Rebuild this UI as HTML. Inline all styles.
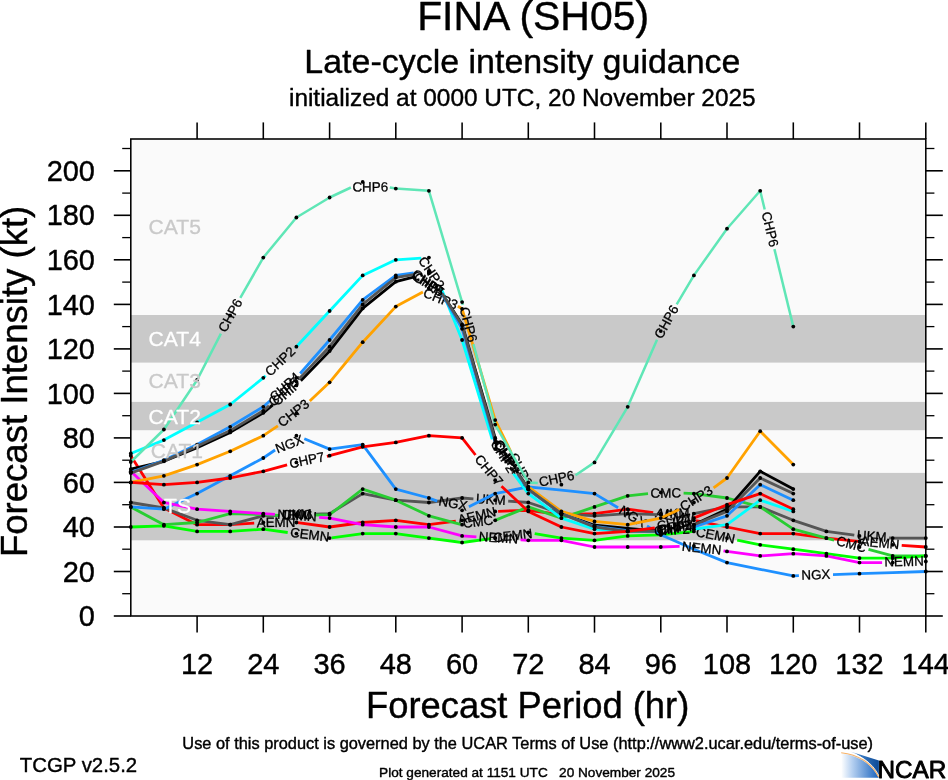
<!DOCTYPE html>
<html lang="en"><head><meta charset="utf-8"><title>FINA (SH05) Late-cycle intensity guidance</title>
<style>html,body{margin:0;padding:0;background:#fff}.ln text{stroke-width:.3px}svg{display:block;will-change:transform}text{font-family:"Liberation Sans", Arial, Helvetica, sans-serif;fill:#000;stroke:#000;stroke-width:.4px;stroke-linejoin:round}</style></head><body>
<svg width="948" height="780" viewBox="0 0 948 780">
<rect width="948" height="780" fill="#fff"/>
<text x="417.14" y="29.90" font-size="40.93" xml:space="preserve" style="white-space:pre">FINA (SH05)</text>
<text x="304.31" y="72.70" font-size="33.97" xml:space="preserve" style="white-space:pre">Late-cycle intensity guidance</text>
<text x="288.96" y="105.60" font-size="24.42" xml:space="preserve" style="white-space:pre">initialized at 0000 UTC, 20 November 2025</text>
<rect x="130.8" y="139.0" width="795.0" height="477.0" fill="#fafafa"/>
<rect x="130.8" y="472.9" width="795.0" height="67.4" fill="#c9c9c9"/>
<rect x="130.8" y="401.9" width="795.0" height="28.3" fill="#c9c9c9"/>
<rect x="130.8" y="315.0" width="795.0" height="47.6" fill="#c9c9c9"/>
<g fill="none" stroke-linejoin="round" stroke-linecap="butt" font-size="13.4" text-anchor="middle" class="ln">
<polyline stroke="#ff0000" stroke-width="2.8" points="130.8,455.7 163.9,508.0 197.1,524.7 230.2,524.7 254.2,523.1"/>
<polyline stroke="#ff0000" stroke-width="2.8" points="297.8,522.7 329.6,527.0 362.7,522.5 395.8,520.3 428.9,524.7 455.8,521.1"/>
<polyline stroke="#ff0000" stroke-width="2.8" points="498.1,511.3 528.3,510.3 561.4,514.7 594.5,513.6 627.7,509.2 653.2,512.6"/>
<polyline stroke="#ff0000" stroke-width="2.8" points="696.0,520.7 727.0,527.0 760.2,533.6 793.3,533.6 826.4,538.1 858.3,541.3"/>
<polyline stroke="#ff0000" stroke-width="2.8" points="901.7,545.4 925.8,547.0"/>
<text transform="translate(276.0,522.9) rotate(-0.6)" y="4.1">AEMN</text>
<text transform="translate(476.9,516.2) rotate(-13.1)" y="4.1">AEMN</text>
<text transform="translate(674.6,516.6) rotate(10.7)" y="4.1">AEMN</text>
<text transform="translate(880.0,543.3) rotate(5.4)" y="4.1">AEMN</text>
<polyline stroke="#555555" stroke-width="2.8" points="130.8,502.5 163.9,508.0 197.1,520.3 230.2,524.7 263.3,515.8 279.5,515.3"/>
<polyline stroke="#555555" stroke-width="2.8" points="314.4,514.1 329.6,513.6 362.7,493.6 395.8,500.2 428.9,502.5 462.1,498.0 473.4,498.8"/>
<polyline stroke="#555555" stroke-width="2.8" points="508.2,501.1 528.3,502.5 561.4,513.6 594.5,515.8 627.7,513.6 657.2,514.6"/>
<polyline stroke="#555555" stroke-width="2.8" points="692.0,513.7 693.9,513.6 727.0,506.9 760.2,506.9 793.3,520.3 826.4,531.4 854.3,535.2"/>
<polyline stroke="#555555" stroke-width="2.8" points="889.1,537.8 892.7,538.1 925.8,538.1"/>
<text transform="translate(297.0,514.7) rotate(-1.9)" y="4.1">UKM</text>
<text transform="translate(490.8,500.0) rotate(3.8)" y="4.1">UKM</text>
<text transform="translate(674.6,514.1) rotate(-1.5)" y="4.1">UKM</text>
<text transform="translate(871.7,536.5) rotate(4.4)" y="4.1">UKM</text>
<polyline stroke="#28cd32" stroke-width="2.8" points="130.8,506.9 163.9,524.7 197.1,522.5 230.2,513.6 263.3,514.7 279.2,515.3"/>
<polyline stroke="#28cd32" stroke-width="2.8" points="314.8,515.2 329.6,514.7 362.7,489.1 395.8,500.2 428.9,515.8 460.5,524.3"/>
<polyline stroke="#28cd32" stroke-width="2.8" points="495.7,520.1 528.3,506.9 561.4,518.1 594.5,506.9 627.7,495.8 648.0,493.7"/>
<polyline stroke="#28cd32" stroke-width="2.8" points="683.6,493.2 693.9,493.6 727.0,498.0 760.2,506.9 793.3,529.2 826.4,538.1 834.1,540.1"/>
<polyline stroke="#28cd32" stroke-width="2.8" points="868.5,549.4 892.7,555.9 925.8,555.9"/>
<text transform="translate(297.0,515.2) rotate(-0.1)" y="4.1">CMC</text>
<text transform="translate(478.1,522.2) rotate(-6.8)" y="4.1">CMC</text>
<text transform="translate(665.8,493.5) rotate(-0.8)" y="4.1">CMC</text>
<text transform="translate(851.3,544.8) rotate(15.0)" y="4.1">CMC</text>
<polyline stroke="#00ff00" stroke-width="2.8" points="130.8,527.0 163.9,525.8 197.1,531.4 230.2,531.4 263.3,529.2 287.7,532.5"/>
<polyline stroke="#00ff00" stroke-width="2.8" points="331.6,537.8 362.7,533.6 395.8,533.6 428.9,538.1 462.1,542.5 491.0,538.7"/>
<polyline stroke="#00ff00" stroke-width="2.8" points="534.7,533.6 561.4,538.1 594.5,540.3 627.7,535.9 660.8,534.8 693.8,531.4"/>
<polyline stroke="#00ff00" stroke-width="2.8" points="737.2,540.1 760.2,544.8 793.3,549.2 826.4,553.7 859.5,558.1 892.7,558.1 925.8,555.9"/>
<text transform="translate(309.7,535.1) rotate(6.9)" y="4.1">CEMN</text>
<text transform="translate(512.8,536.1) rotate(-6.6)" y="4.1">CEMN</text>
<text transform="translate(715.5,535.8) rotate(11.3)" y="4.1">CEMN</text>
<polyline stroke="#1e90ff" stroke-width="2.8" points="130.8,506.9 163.9,509.2 197.1,493.6 230.2,475.8 263.3,458.0 275.1,450.0"/>
<polyline stroke="#1e90ff" stroke-width="2.8" points="304.3,438.8 329.6,449.1 362.7,444.6 395.8,489.1 428.9,498.0 437.2,501.1"/>
<polyline stroke="#1e90ff" stroke-width="2.8" points="468.9,506.8 495.2,493.6 528.3,486.9 561.4,490.2 594.5,493.6 618.1,507.8"/>
<polyline stroke="#1e90ff" stroke-width="2.8" points="647.0,526.0 660.8,534.8 693.9,549.2 727.0,562.6 760.2,569.3 793.3,575.9 798.9,575.7"/>
<polyline stroke="#1e90ff" stroke-width="2.8" points="833.0,574.6 859.5,573.7 892.7,572.6 925.8,571.5"/>
<text transform="translate(289.7,444.4) rotate(-21.0)" y="4.1">NGX</text>
<text transform="translate(453.0,503.9) rotate(10.3)" y="4.1">NGX</text>
<text transform="translate(632.6,516.9) rotate(32.1)" y="4.1">NGX</text>
<text transform="translate(815.9,575.2) rotate(-1.9)" y="4.1">NGX</text>
<polyline stroke="#ff00ff" stroke-width="2.8" points="130.8,471.3 163.9,502.5 197.1,509.2 230.2,511.4 263.3,513.6 274.9,514.4"/>
<polyline stroke="#ff00ff" stroke-width="2.8" points="319.1,517.4 329.6,518.1 362.7,524.7 395.8,527.0 428.9,527.0 462.1,535.9 476.4,536.8"/>
<polyline stroke="#ff00ff" stroke-width="2.8" points="520.6,539.8 528.3,540.3 561.4,540.3 594.5,547.0 627.7,547.0 660.8,547.0 679.6,546.4"/>
<polyline stroke="#ff00ff" stroke-width="2.8" points="723.5,550.8 727.0,551.4 760.2,555.9 793.3,553.7 826.4,555.9 859.5,562.6 882.1,562.6"/>
<text transform="translate(297.0,515.9) rotate(3.8)" y="4.1">NEMN</text>
<text transform="translate(498.5,538.3) rotate(3.8)" y="4.1">NEMN</text>
<text transform="translate(701.6,548.6) rotate(5.8)" y="4.1">NEMN</text>
<text transform="translate(904.0,562.0) rotate(-1.5)" y="4.1">NEMN</text>
<polyline stroke="#000000" stroke-width="2.8" points="130.8,469.1 163.9,461.3 197.1,447.7 230.2,432.4 263.3,412.8 272.8,404.9"/>
<polyline stroke="#000000" stroke-width="2.8" points="300.8,380.8 329.6,351.1 362.7,308.4 395.8,281.7 415.4,276.6"/>
<polyline stroke="#000000" stroke-width="2.8" points="441.5,292.6 462.1,324.4 495.2,437.9 496.2,439.4"/>
<polyline stroke="#000000" stroke-width="2.8" points="516.3,470.5 528.3,489.1 561.4,513.6 594.5,525.2 627.7,528.3 656.4,531.0"/>
<polyline stroke="#000000" stroke-width="2.8" points="692.8,525.0 693.9,524.7 727.0,509.2 760.2,471.3 793.3,489.1"/>
<text transform="translate(286.8,392.9) rotate(-40.7)" y="4.1">CHIP</text>
<text transform="translate(428.4,284.6) rotate(31.4)" y="4.1">CHIP</text>
<text transform="translate(506.2,455.0) rotate(57.1)" y="4.1">CHIP</text>
<text transform="translate(674.6,528.0) rotate(-9.4)" y="4.1">CHIP</text>
<polyline stroke="#00ffff" stroke-width="2.8" points="130.8,453.5 163.9,440.1 197.1,422.3 230.2,404.5 263.3,377.8 265.6,375.7"/>
<polyline stroke="#00ffff" stroke-width="2.8" points="295.2,347.8 296.4,346.7 329.6,311.0 362.7,275.4 395.8,259.8 421.2,258.1"/>
<polyline stroke="#00ffff" stroke-width="2.8" points="441.2,288.2 462.1,340.0 492.2,439.3"/>
<polyline stroke="#00ffff" stroke-width="2.8" points="513.4,473.5 528.3,493.6 561.4,518.1 594.5,529.2 627.7,531.4 651.5,531.4"/>
<polyline stroke="#00ffff" stroke-width="2.8" points="692.1,529.3 693.9,529.2 727.0,524.7 760.2,500.2 793.3,511.4"/>
<text transform="translate(280.4,361.7) rotate(-43.3)" y="4.1">CHP2</text>
<text transform="translate(431.2,273.1) rotate(56.3)" y="4.1">CHP2</text>
<text transform="translate(502.8,456.4) rotate(58.2)" y="4.1">CHP2</text>
<text transform="translate(671.8,530.4) rotate(-3.0)" y="4.1">CHP2</text>
<polyline stroke="#ffa200" stroke-width="2.8" points="130.8,482.4 163.9,475.8 197.1,464.6 230.2,451.3 263.3,435.7 277.9,425.9"/>
<polyline stroke="#ffa200" stroke-width="2.8" points="309.8,400.9 329.6,382.3 362.7,342.2 395.8,306.6 422.9,292.0"/>
<polyline stroke="#ffa200" stroke-width="2.8" points="457.9,306.3 462.1,308.8 495.2,420.1 511.0,452.0"/>
<polyline stroke="#ffa200" stroke-width="2.8" points="529.7,487.9 561.4,511.4 594.5,521.4 627.7,524.7 660.8,518.1 679.2,509.4"/>
<polyline stroke="#ffa200" stroke-width="2.8" points="713.6,487.9 727.0,478.0 760.2,431.2 793.3,464.6"/>
<text transform="translate(293.8,413.4) rotate(-38.1)" y="4.1">CHP3</text>
<text transform="translate(440.4,299.2) rotate(22.3)" y="4.1">CHP3</text>
<text transform="translate(520.3,469.9) rotate(62.5)" y="4.1">CHP3</text>
<text transform="translate(696.4,498.7) rotate(-32.0)" y="4.1">CHP3</text>
<polyline stroke="#1e90ff" stroke-width="2.8" points="130.8,472.2 163.9,460.2 197.1,444.6 230.2,426.8 263.3,406.8 270.1,400.8"/>
<polyline stroke="#1e90ff" stroke-width="2.8" points="300.2,373.5 329.6,340.0 362.7,299.9 395.8,275.4 413.7,273.0"/>
<polyline stroke="#1e90ff" stroke-width="2.8" points="441.5,293.0 462.1,328.8 494.9,441.3"/>
<polyline stroke="#1e90ff" stroke-width="2.8" points="517.9,474.7 528.3,489.6 561.4,513.6 594.5,526.5 627.7,530.7 654.4,531.3"/>
<polyline stroke="#1e90ff" stroke-width="2.8" points="694.7,526.7 727.0,515.8 760.2,484.7 793.3,500.2"/>
<text transform="translate(285.1,387.2) rotate(-42.2)" y="4.1">CHP4</text>
<text transform="translate(427.6,283.0) rotate(35.7)" y="4.1">CHP4</text>
<text transform="translate(506.4,458.0) rotate(55.4)" y="4.1">CHP4</text>
<text transform="translate(674.6,529.0) rotate(-6.5)" y="4.1">CHP4</text>
<polyline stroke="#555555" stroke-width="2.8" points="130.8,473.1 163.9,461.1 197.1,446.2 230.2,430.6 263.3,410.8 269.0,405.7"/>
<polyline stroke="#555555" stroke-width="2.8" points="299.3,378.6 329.6,346.7 362.7,304.4 395.8,277.6 413.5,274.7"/>
<polyline stroke="#555555" stroke-width="2.8" points="442.1,293.4 462.1,325.5 495.0,439.5"/>
<polyline stroke="#555555" stroke-width="2.8" points="517.6,473.3 528.3,489.1 561.4,513.6 594.5,527.0 627.7,531.4 654.5,531.4"/>
<polyline stroke="#555555" stroke-width="2.8" points="694.5,524.5 727.0,511.4 760.2,478.0 793.3,493.6"/>
<text transform="translate(284.1,392.2) rotate(-41.9)" y="4.1">CHP5</text>
<text transform="translate(427.8,284.0) rotate(33.2)" y="4.1">CHP5</text>
<text transform="translate(506.3,456.4) rotate(56.2)" y="4.1">CHP5</text>
<text transform="translate(674.5,528.0) rotate(-9.8)" y="4.1">CHP5</text>
<polyline stroke="#5fe6b6" stroke-width="2.5" points="130.8,462.0 163.9,429.5 197.1,380.0 220.9,333.6"/>
<polyline stroke="#5fe6b6" stroke-width="2.5" points="240.3,297.8 263.3,257.6 296.4,217.5 329.6,197.5 350.9,187.5"/>
<polyline stroke="#5fe6b6" stroke-width="2.5" points="389.8,187.4 395.8,188.6 428.9,190.8 462.1,302.1 462.8,304.9"/>
<polyline stroke="#5fe6b6" stroke-width="2.5" points="473.4,344.2 495.2,424.6 528.3,482.4 537.8,483.1"/>
<polyline stroke="#5fe6b6" stroke-width="2.5" points="575.5,475.2 594.5,462.4 627.7,406.8 657.0,339.8"/>
<polyline stroke="#5fe6b6" stroke-width="2.5" points="676.7,304.3 693.9,275.4 727.0,228.7 760.2,190.8 764.7,209.5"/>
<polyline stroke="#5fe6b6" stroke-width="2.5" points="774.4,249.1 793.3,326.6"/>
<text transform="translate(230.6,315.7) rotate(-61.5)" y="4.1">CHP6</text>
<text transform="translate(370.3,187.4) rotate(-0.1)" y="4.1">CHP6</text>
<text transform="translate(468.1,324.6) rotate(74.9)" y="4.1">CHP6</text>
<text transform="translate(556.7,479.1) rotate(-11.8)" y="4.1">CHP6</text>
<text transform="translate(666.8,322.1) rotate(-60.9)" y="4.1">CHP6</text>
<text transform="translate(769.6,229.3) rotate(76.3)" y="4.1">CHP6</text>
<polyline stroke="#ff0000" stroke-width="2.8" points="130.8,482.4 163.9,484.7 197.1,482.4 230.2,478.0 263.3,471.3 287.1,464.9"/>
<polyline stroke="#ff0000" stroke-width="2.8" points="326.9,456.3 329.6,455.7 362.7,446.8 395.8,442.4 428.9,435.7 462.1,437.9 475.5,455.0"/>
<polyline stroke="#ff0000" stroke-width="2.8" points="501.5,486.2 528.3,511.4 561.4,527.0 594.5,533.6 627.7,531.4 654.8,527.8"/>
<polyline stroke="#ff0000" stroke-width="2.8" points="694.2,517.9 727.0,504.7 760.2,493.6 793.3,509.2"/>
<text transform="translate(307.0,460.6) rotate(-12.3)" y="4.1">CHP7</text>
<text transform="translate(488.5,470.6) rotate(50.1)" y="4.1">CHP7</text>
<text transform="translate(674.5,522.8) rotate(-14.0)" y="4.1">CHP7</text>
</g>
<g fill="#000">
<circle cx="130.8" cy="455.7" r="1.9"/>
<circle cx="163.9" cy="508.0" r="1.9"/>
<circle cx="197.1" cy="524.7" r="1.9"/>
<circle cx="230.2" cy="524.7" r="1.9"/>
<circle cx="263.3" cy="522.5" r="1.9"/>
<circle cx="296.4" cy="522.5" r="1.9"/>
<circle cx="329.6" cy="527.0" r="1.9"/>
<circle cx="362.7" cy="522.5" r="1.9"/>
<circle cx="395.8" cy="520.3" r="1.9"/>
<circle cx="428.9" cy="524.7" r="1.9"/>
<circle cx="462.1" cy="520.3" r="1.9"/>
<circle cx="495.2" cy="511.4" r="1.9"/>
<circle cx="528.3" cy="510.3" r="1.9"/>
<circle cx="561.4" cy="514.7" r="1.9"/>
<circle cx="594.5" cy="513.6" r="1.9"/>
<circle cx="627.7" cy="509.2" r="1.9"/>
<circle cx="660.8" cy="513.6" r="1.9"/>
<circle cx="693.9" cy="520.3" r="1.9"/>
<circle cx="727.0" cy="527.0" r="1.9"/>
<circle cx="760.2" cy="533.6" r="1.9"/>
<circle cx="793.3" cy="533.6" r="1.9"/>
<circle cx="826.4" cy="538.1" r="1.9"/>
<circle cx="859.5" cy="541.4" r="1.9"/>
<circle cx="892.7" cy="544.8" r="1.9"/>
<circle cx="925.8" cy="547.0" r="1.9"/>
<circle cx="130.8" cy="502.5" r="1.9"/>
<circle cx="163.9" cy="508.0" r="1.9"/>
<circle cx="197.1" cy="520.3" r="1.9"/>
<circle cx="230.2" cy="524.7" r="1.9"/>
<circle cx="263.3" cy="515.8" r="1.9"/>
<circle cx="296.4" cy="514.7" r="1.9"/>
<circle cx="329.6" cy="513.6" r="1.9"/>
<circle cx="362.7" cy="493.6" r="1.9"/>
<circle cx="395.8" cy="500.2" r="1.9"/>
<circle cx="428.9" cy="502.5" r="1.9"/>
<circle cx="462.1" cy="498.0" r="1.9"/>
<circle cx="495.2" cy="500.2" r="1.9"/>
<circle cx="528.3" cy="502.5" r="1.9"/>
<circle cx="561.4" cy="513.6" r="1.9"/>
<circle cx="594.5" cy="515.8" r="1.9"/>
<circle cx="627.7" cy="513.6" r="1.9"/>
<circle cx="660.8" cy="514.7" r="1.9"/>
<circle cx="693.9" cy="513.6" r="1.9"/>
<circle cx="727.0" cy="506.9" r="1.9"/>
<circle cx="760.2" cy="506.9" r="1.9"/>
<circle cx="793.3" cy="520.3" r="1.9"/>
<circle cx="826.4" cy="531.4" r="1.9"/>
<circle cx="859.5" cy="535.9" r="1.9"/>
<circle cx="892.7" cy="538.1" r="1.9"/>
<circle cx="925.8" cy="538.1" r="1.9"/>
<circle cx="130.8" cy="506.9" r="1.9"/>
<circle cx="163.9" cy="524.7" r="1.9"/>
<circle cx="197.1" cy="522.5" r="1.9"/>
<circle cx="230.2" cy="513.6" r="1.9"/>
<circle cx="263.3" cy="514.7" r="1.9"/>
<circle cx="296.4" cy="515.8" r="1.9"/>
<circle cx="329.6" cy="514.7" r="1.9"/>
<circle cx="362.7" cy="489.1" r="1.9"/>
<circle cx="395.8" cy="500.2" r="1.9"/>
<circle cx="428.9" cy="515.8" r="1.9"/>
<circle cx="462.1" cy="524.7" r="1.9"/>
<circle cx="495.2" cy="520.3" r="1.9"/>
<circle cx="528.3" cy="506.9" r="1.9"/>
<circle cx="561.4" cy="518.1" r="1.9"/>
<circle cx="594.5" cy="506.9" r="1.9"/>
<circle cx="627.7" cy="495.8" r="1.9"/>
<circle cx="660.8" cy="492.5" r="1.9"/>
<circle cx="693.9" cy="493.6" r="1.9"/>
<circle cx="727.0" cy="498.0" r="1.9"/>
<circle cx="760.2" cy="506.9" r="1.9"/>
<circle cx="793.3" cy="529.2" r="1.9"/>
<circle cx="826.4" cy="538.1" r="1.9"/>
<circle cx="859.5" cy="547.0" r="1.9"/>
<circle cx="892.7" cy="555.9" r="1.9"/>
<circle cx="925.8" cy="555.9" r="1.9"/>
<circle cx="130.8" cy="527.0" r="1.9"/>
<circle cx="163.9" cy="525.8" r="1.9"/>
<circle cx="197.1" cy="531.4" r="1.9"/>
<circle cx="230.2" cy="531.4" r="1.9"/>
<circle cx="263.3" cy="529.2" r="1.9"/>
<circle cx="296.4" cy="533.6" r="1.9"/>
<circle cx="329.6" cy="538.1" r="1.9"/>
<circle cx="362.7" cy="533.6" r="1.9"/>
<circle cx="395.8" cy="533.6" r="1.9"/>
<circle cx="428.9" cy="538.1" r="1.9"/>
<circle cx="462.1" cy="542.5" r="1.9"/>
<circle cx="495.2" cy="538.1" r="1.9"/>
<circle cx="528.3" cy="532.5" r="1.9"/>
<circle cx="561.4" cy="538.1" r="1.9"/>
<circle cx="594.5" cy="540.3" r="1.9"/>
<circle cx="627.7" cy="535.9" r="1.9"/>
<circle cx="660.8" cy="534.8" r="1.9"/>
<circle cx="693.9" cy="531.4" r="1.9"/>
<circle cx="727.0" cy="538.1" r="1.9"/>
<circle cx="760.2" cy="544.8" r="1.9"/>
<circle cx="793.3" cy="549.2" r="1.9"/>
<circle cx="826.4" cy="553.7" r="1.9"/>
<circle cx="859.5" cy="558.1" r="1.9"/>
<circle cx="892.7" cy="558.1" r="1.9"/>
<circle cx="925.8" cy="555.9" r="1.9"/>
<circle cx="130.8" cy="506.9" r="1.9"/>
<circle cx="163.9" cy="509.2" r="1.9"/>
<circle cx="197.1" cy="493.6" r="1.9"/>
<circle cx="230.2" cy="475.8" r="1.9"/>
<circle cx="263.3" cy="458.0" r="1.9"/>
<circle cx="296.4" cy="435.7" r="1.9"/>
<circle cx="329.6" cy="449.1" r="1.9"/>
<circle cx="362.7" cy="444.6" r="1.9"/>
<circle cx="395.8" cy="489.1" r="1.9"/>
<circle cx="428.9" cy="498.0" r="1.9"/>
<circle cx="462.1" cy="510.3" r="1.9"/>
<circle cx="495.2" cy="493.6" r="1.9"/>
<circle cx="528.3" cy="486.9" r="1.9"/>
<circle cx="594.5" cy="493.6" r="1.9"/>
<circle cx="660.8" cy="534.8" r="1.9"/>
<circle cx="727.0" cy="562.6" r="1.9"/>
<circle cx="793.3" cy="575.9" r="1.9"/>
<circle cx="859.5" cy="573.7" r="1.9"/>
<circle cx="925.8" cy="571.5" r="1.9"/>
<circle cx="130.8" cy="471.3" r="1.9"/>
<circle cx="163.9" cy="502.5" r="1.9"/>
<circle cx="197.1" cy="509.2" r="1.9"/>
<circle cx="230.2" cy="511.4" r="1.9"/>
<circle cx="263.3" cy="513.6" r="1.9"/>
<circle cx="296.4" cy="515.8" r="1.9"/>
<circle cx="329.6" cy="518.1" r="1.9"/>
<circle cx="362.7" cy="524.7" r="1.9"/>
<circle cx="395.8" cy="527.0" r="1.9"/>
<circle cx="428.9" cy="527.0" r="1.9"/>
<circle cx="462.1" cy="535.9" r="1.9"/>
<circle cx="495.2" cy="538.1" r="1.9"/>
<circle cx="528.3" cy="540.3" r="1.9"/>
<circle cx="561.4" cy="540.3" r="1.9"/>
<circle cx="594.5" cy="547.0" r="1.9"/>
<circle cx="627.7" cy="547.0" r="1.9"/>
<circle cx="660.8" cy="547.0" r="1.9"/>
<circle cx="693.9" cy="545.9" r="1.9"/>
<circle cx="727.0" cy="551.4" r="1.9"/>
<circle cx="760.2" cy="555.9" r="1.9"/>
<circle cx="793.3" cy="553.7" r="1.9"/>
<circle cx="826.4" cy="555.9" r="1.9"/>
<circle cx="859.5" cy="562.6" r="1.9"/>
<circle cx="892.7" cy="562.6" r="1.9"/>
<circle cx="925.8" cy="561.5" r="1.9"/>
<circle cx="130.8" cy="469.1" r="1.9"/>
<circle cx="163.9" cy="461.3" r="1.9"/>
<circle cx="197.1" cy="447.7" r="1.9"/>
<circle cx="230.2" cy="432.4" r="1.9"/>
<circle cx="263.3" cy="412.8" r="1.9"/>
<circle cx="296.4" cy="385.4" r="1.9"/>
<circle cx="329.6" cy="351.1" r="1.9"/>
<circle cx="362.7" cy="308.4" r="1.9"/>
<circle cx="395.8" cy="281.7" r="1.9"/>
<circle cx="428.9" cy="273.2" r="1.9"/>
<circle cx="462.1" cy="324.4" r="1.9"/>
<circle cx="495.2" cy="437.9" r="1.9"/>
<circle cx="528.3" cy="489.1" r="1.9"/>
<circle cx="561.4" cy="513.6" r="1.9"/>
<circle cx="594.5" cy="525.2" r="1.9"/>
<circle cx="627.7" cy="528.3" r="1.9"/>
<circle cx="660.8" cy="531.4" r="1.9"/>
<circle cx="693.9" cy="524.7" r="1.9"/>
<circle cx="727.0" cy="509.2" r="1.9"/>
<circle cx="760.2" cy="471.3" r="1.9"/>
<circle cx="793.3" cy="489.1" r="1.9"/>
<circle cx="130.8" cy="453.5" r="1.9"/>
<circle cx="163.9" cy="440.1" r="1.9"/>
<circle cx="197.1" cy="422.3" r="1.9"/>
<circle cx="230.2" cy="404.5" r="1.9"/>
<circle cx="263.3" cy="377.8" r="1.9"/>
<circle cx="296.4" cy="346.7" r="1.9"/>
<circle cx="329.6" cy="311.0" r="1.9"/>
<circle cx="362.7" cy="275.4" r="1.9"/>
<circle cx="395.8" cy="259.8" r="1.9"/>
<circle cx="428.9" cy="257.6" r="1.9"/>
<circle cx="462.1" cy="340.0" r="1.9"/>
<circle cx="495.2" cy="449.1" r="1.9"/>
<circle cx="528.3" cy="493.6" r="1.9"/>
<circle cx="561.4" cy="518.1" r="1.9"/>
<circle cx="594.5" cy="529.2" r="1.9"/>
<circle cx="627.7" cy="531.4" r="1.9"/>
<circle cx="660.8" cy="531.4" r="1.9"/>
<circle cx="693.9" cy="529.2" r="1.9"/>
<circle cx="727.0" cy="524.7" r="1.9"/>
<circle cx="760.2" cy="500.2" r="1.9"/>
<circle cx="793.3" cy="511.4" r="1.9"/>
<circle cx="130.8" cy="482.4" r="1.9"/>
<circle cx="163.9" cy="475.8" r="1.9"/>
<circle cx="197.1" cy="464.6" r="1.9"/>
<circle cx="230.2" cy="451.3" r="1.9"/>
<circle cx="263.3" cy="435.7" r="1.9"/>
<circle cx="296.4" cy="413.4" r="1.9"/>
<circle cx="329.6" cy="382.3" r="1.9"/>
<circle cx="362.7" cy="342.2" r="1.9"/>
<circle cx="395.8" cy="306.6" r="1.9"/>
<circle cx="428.9" cy="288.8" r="1.9"/>
<circle cx="462.1" cy="308.8" r="1.9"/>
<circle cx="495.2" cy="420.1" r="1.9"/>
<circle cx="528.3" cy="486.9" r="1.9"/>
<circle cx="561.4" cy="511.4" r="1.9"/>
<circle cx="594.5" cy="521.4" r="1.9"/>
<circle cx="627.7" cy="524.7" r="1.9"/>
<circle cx="660.8" cy="518.1" r="1.9"/>
<circle cx="693.9" cy="502.5" r="1.9"/>
<circle cx="727.0" cy="478.0" r="1.9"/>
<circle cx="760.2" cy="431.2" r="1.9"/>
<circle cx="793.3" cy="464.6" r="1.9"/>
<circle cx="130.8" cy="472.2" r="1.9"/>
<circle cx="163.9" cy="460.2" r="1.9"/>
<circle cx="197.1" cy="444.6" r="1.9"/>
<circle cx="230.2" cy="426.8" r="1.9"/>
<circle cx="263.3" cy="406.8" r="1.9"/>
<circle cx="296.4" cy="377.8" r="1.9"/>
<circle cx="329.6" cy="340.0" r="1.9"/>
<circle cx="362.7" cy="299.9" r="1.9"/>
<circle cx="395.8" cy="275.4" r="1.9"/>
<circle cx="428.9" cy="271.0" r="1.9"/>
<circle cx="462.1" cy="328.8" r="1.9"/>
<circle cx="495.2" cy="442.4" r="1.9"/>
<circle cx="528.3" cy="489.6" r="1.9"/>
<circle cx="561.4" cy="513.6" r="1.9"/>
<circle cx="594.5" cy="526.5" r="1.9"/>
<circle cx="627.7" cy="530.7" r="1.9"/>
<circle cx="660.8" cy="531.4" r="1.9"/>
<circle cx="693.9" cy="527.0" r="1.9"/>
<circle cx="727.0" cy="515.8" r="1.9"/>
<circle cx="760.2" cy="484.7" r="1.9"/>
<circle cx="793.3" cy="500.2" r="1.9"/>
<circle cx="130.8" cy="473.1" r="1.9"/>
<circle cx="163.9" cy="461.1" r="1.9"/>
<circle cx="197.1" cy="446.2" r="1.9"/>
<circle cx="230.2" cy="430.6" r="1.9"/>
<circle cx="263.3" cy="410.8" r="1.9"/>
<circle cx="296.4" cy="381.6" r="1.9"/>
<circle cx="329.6" cy="346.7" r="1.9"/>
<circle cx="362.7" cy="304.4" r="1.9"/>
<circle cx="395.8" cy="277.6" r="1.9"/>
<circle cx="428.9" cy="272.1" r="1.9"/>
<circle cx="462.1" cy="325.5" r="1.9"/>
<circle cx="495.2" cy="440.1" r="1.9"/>
<circle cx="528.3" cy="489.1" r="1.9"/>
<circle cx="561.4" cy="513.6" r="1.9"/>
<circle cx="594.5" cy="527.0" r="1.9"/>
<circle cx="627.7" cy="531.4" r="1.9"/>
<circle cx="660.8" cy="531.4" r="1.9"/>
<circle cx="693.9" cy="524.7" r="1.9"/>
<circle cx="727.0" cy="511.4" r="1.9"/>
<circle cx="760.2" cy="478.0" r="1.9"/>
<circle cx="793.3" cy="493.6" r="1.9"/>
<circle cx="130.8" cy="462.0" r="1.9"/>
<circle cx="163.9" cy="429.5" r="1.9"/>
<circle cx="197.1" cy="380.0" r="1.9"/>
<circle cx="230.2" cy="315.5" r="1.9"/>
<circle cx="263.3" cy="257.6" r="1.9"/>
<circle cx="296.4" cy="217.5" r="1.9"/>
<circle cx="329.6" cy="197.5" r="1.9"/>
<circle cx="362.7" cy="181.9" r="1.9"/>
<circle cx="395.8" cy="188.6" r="1.9"/>
<circle cx="428.9" cy="190.8" r="1.9"/>
<circle cx="462.1" cy="302.1" r="1.9"/>
<circle cx="495.2" cy="424.6" r="1.9"/>
<circle cx="528.3" cy="482.4" r="1.9"/>
<circle cx="561.4" cy="484.7" r="1.9"/>
<circle cx="594.5" cy="462.4" r="1.9"/>
<circle cx="627.7" cy="406.8" r="1.9"/>
<circle cx="660.8" cy="331.1" r="1.9"/>
<circle cx="693.9" cy="275.4" r="1.9"/>
<circle cx="727.0" cy="228.7" r="1.9"/>
<circle cx="760.2" cy="190.8" r="1.9"/>
<circle cx="793.3" cy="326.6" r="1.9"/>
<circle cx="130.8" cy="482.4" r="1.9"/>
<circle cx="163.9" cy="484.7" r="1.9"/>
<circle cx="197.1" cy="482.4" r="1.9"/>
<circle cx="230.2" cy="478.0" r="1.9"/>
<circle cx="263.3" cy="471.3" r="1.9"/>
<circle cx="296.4" cy="462.4" r="1.9"/>
<circle cx="329.6" cy="455.7" r="1.9"/>
<circle cx="362.7" cy="446.8" r="1.9"/>
<circle cx="395.8" cy="442.4" r="1.9"/>
<circle cx="428.9" cy="435.7" r="1.9"/>
<circle cx="462.1" cy="437.9" r="1.9"/>
<circle cx="495.2" cy="480.2" r="1.9"/>
<circle cx="528.3" cy="511.4" r="1.9"/>
<circle cx="561.4" cy="527.0" r="1.9"/>
<circle cx="594.5" cy="533.6" r="1.9"/>
<circle cx="627.7" cy="531.4" r="1.9"/>
<circle cx="660.8" cy="527.0" r="1.9"/>
<circle cx="693.9" cy="518.1" r="1.9"/>
<circle cx="727.0" cy="504.7" r="1.9"/>
<circle cx="760.2" cy="493.6" r="1.9"/>
<circle cx="793.3" cy="509.2" r="1.9"/>
</g>
<text x="174.8" y="233.8" font-size="21.1" text-anchor="middle" style="fill:#c9c9c9;stroke:#c9c9c9;stroke-width:.3px">CAT5</text>
<text x="174.8" y="345.9" font-size="21.1" text-anchor="middle" style="fill:#ffffff;stroke:#ffffff;stroke-width:.3px">CAT4</text>
<text x="174.8" y="388.2" font-size="21.1" text-anchor="middle" style="fill:#c9c9c9;stroke:#c9c9c9;stroke-width:.3px">CAT3</text>
<text x="174.8" y="423.6" font-size="21.1" text-anchor="middle" style="fill:#ffffff;stroke:#ffffff;stroke-width:.3px">CAT2</text>
<text x="176.9" y="458.0" font-size="21.1" text-anchor="middle" style="fill:#c9c9c9;stroke:#c9c9c9;stroke-width:.3px">CAT1</text>
<text x="177.6" y="513.4" font-size="21.1" text-anchor="middle" style="fill:#ffffff;stroke:#ffffff;stroke-width:.3px">TS</text>
<g stroke="#000" fill="none" stroke-linecap="butt">
<rect x="130.8" y="139.0" width="795.0" height="477.0" stroke-width="1.55"/>
<line x1="197.1" y1="616.0" x2="197.1" y2="632.6" stroke-width="1.55"/>
<line x1="197.1" y1="139.0" x2="197.1" y2="122.4" stroke-width="1.55"/>
<line x1="263.3" y1="616.0" x2="263.3" y2="632.6" stroke-width="1.55"/>
<line x1="263.3" y1="139.0" x2="263.3" y2="122.4" stroke-width="1.55"/>
<line x1="329.6" y1="616.0" x2="329.6" y2="632.6" stroke-width="1.55"/>
<line x1="329.6" y1="139.0" x2="329.6" y2="122.4" stroke-width="1.55"/>
<line x1="395.8" y1="616.0" x2="395.8" y2="632.6" stroke-width="1.55"/>
<line x1="395.8" y1="139.0" x2="395.8" y2="122.4" stroke-width="1.55"/>
<line x1="462.1" y1="616.0" x2="462.1" y2="632.6" stroke-width="1.55"/>
<line x1="462.1" y1="139.0" x2="462.1" y2="122.4" stroke-width="1.55"/>
<line x1="528.3" y1="616.0" x2="528.3" y2="632.6" stroke-width="1.55"/>
<line x1="528.3" y1="139.0" x2="528.3" y2="122.4" stroke-width="1.55"/>
<line x1="594.5" y1="616.0" x2="594.5" y2="632.6" stroke-width="1.55"/>
<line x1="594.5" y1="139.0" x2="594.5" y2="122.4" stroke-width="1.55"/>
<line x1="660.8" y1="616.0" x2="660.8" y2="632.6" stroke-width="1.55"/>
<line x1="660.8" y1="139.0" x2="660.8" y2="122.4" stroke-width="1.55"/>
<line x1="727.0" y1="616.0" x2="727.0" y2="632.6" stroke-width="1.55"/>
<line x1="727.0" y1="139.0" x2="727.0" y2="122.4" stroke-width="1.55"/>
<line x1="793.3" y1="616.0" x2="793.3" y2="632.6" stroke-width="1.55"/>
<line x1="793.3" y1="139.0" x2="793.3" y2="122.4" stroke-width="1.55"/>
<line x1="859.5" y1="616.0" x2="859.5" y2="632.6" stroke-width="1.55"/>
<line x1="859.5" y1="139.0" x2="859.5" y2="122.4" stroke-width="1.55"/>
<line x1="925.8" y1="616.0" x2="925.8" y2="632.6" stroke-width="1.55"/>
<line x1="925.8" y1="139.0" x2="925.8" y2="122.4" stroke-width="1.55"/>
<line x1="130.8" y1="616.0" x2="113.8" y2="616.0" stroke-width="1.6"/>
<line x1="925.8" y1="616.0" x2="942.8" y2="616.0" stroke-width="1.6"/>
<line x1="130.8" y1="593.7" x2="122.2" y2="593.7" stroke-width="1.3"/>
<line x1="925.8" y1="593.7" x2="934.4" y2="593.7" stroke-width="1.3"/>
<line x1="130.8" y1="571.5" x2="113.8" y2="571.5" stroke-width="1.6"/>
<line x1="925.8" y1="571.5" x2="942.8" y2="571.5" stroke-width="1.6"/>
<line x1="130.8" y1="549.2" x2="122.2" y2="549.2" stroke-width="1.3"/>
<line x1="925.8" y1="549.2" x2="934.4" y2="549.2" stroke-width="1.3"/>
<line x1="130.8" y1="527.0" x2="113.8" y2="527.0" stroke-width="1.6"/>
<line x1="925.8" y1="527.0" x2="942.8" y2="527.0" stroke-width="1.6"/>
<line x1="130.8" y1="504.7" x2="122.2" y2="504.7" stroke-width="1.3"/>
<line x1="925.8" y1="504.7" x2="934.4" y2="504.7" stroke-width="1.3"/>
<line x1="130.8" y1="482.4" x2="113.8" y2="482.4" stroke-width="1.6"/>
<line x1="925.8" y1="482.4" x2="942.8" y2="482.4" stroke-width="1.6"/>
<line x1="130.8" y1="460.2" x2="122.2" y2="460.2" stroke-width="1.3"/>
<line x1="925.8" y1="460.2" x2="934.4" y2="460.2" stroke-width="1.3"/>
<line x1="130.8" y1="437.9" x2="113.8" y2="437.9" stroke-width="1.6"/>
<line x1="925.8" y1="437.9" x2="942.8" y2="437.9" stroke-width="1.6"/>
<line x1="130.8" y1="415.7" x2="122.2" y2="415.7" stroke-width="1.3"/>
<line x1="925.8" y1="415.7" x2="934.4" y2="415.7" stroke-width="1.3"/>
<line x1="130.8" y1="393.4" x2="113.8" y2="393.4" stroke-width="1.6"/>
<line x1="925.8" y1="393.4" x2="942.8" y2="393.4" stroke-width="1.6"/>
<line x1="130.8" y1="371.1" x2="122.2" y2="371.1" stroke-width="1.3"/>
<line x1="925.8" y1="371.1" x2="934.4" y2="371.1" stroke-width="1.3"/>
<line x1="130.8" y1="348.9" x2="113.8" y2="348.9" stroke-width="1.6"/>
<line x1="925.8" y1="348.9" x2="942.8" y2="348.9" stroke-width="1.6"/>
<line x1="130.8" y1="326.6" x2="122.2" y2="326.6" stroke-width="1.3"/>
<line x1="925.8" y1="326.6" x2="934.4" y2="326.6" stroke-width="1.3"/>
<line x1="130.8" y1="304.4" x2="113.8" y2="304.4" stroke-width="1.6"/>
<line x1="925.8" y1="304.4" x2="942.8" y2="304.4" stroke-width="1.6"/>
<line x1="130.8" y1="282.1" x2="122.2" y2="282.1" stroke-width="1.3"/>
<line x1="925.8" y1="282.1" x2="934.4" y2="282.1" stroke-width="1.3"/>
<line x1="130.8" y1="259.8" x2="113.8" y2="259.8" stroke-width="1.6"/>
<line x1="925.8" y1="259.8" x2="942.8" y2="259.8" stroke-width="1.6"/>
<line x1="130.8" y1="237.6" x2="122.2" y2="237.6" stroke-width="1.3"/>
<line x1="925.8" y1="237.6" x2="934.4" y2="237.6" stroke-width="1.3"/>
<line x1="130.8" y1="215.3" x2="113.8" y2="215.3" stroke-width="1.6"/>
<line x1="925.8" y1="215.3" x2="942.8" y2="215.3" stroke-width="1.6"/>
<line x1="130.8" y1="193.1" x2="122.2" y2="193.1" stroke-width="1.3"/>
<line x1="925.8" y1="193.1" x2="934.4" y2="193.1" stroke-width="1.3"/>
<line x1="130.8" y1="170.8" x2="113.8" y2="170.8" stroke-width="1.6"/>
<line x1="925.8" y1="170.8" x2="942.8" y2="170.8" stroke-width="1.6"/>
<line x1="130.8" y1="148.5" x2="122.2" y2="148.5" stroke-width="1.3"/>
<line x1="925.8" y1="148.5" x2="934.4" y2="148.5" stroke-width="1.3"/>
</g>
<g font-size="29">
<text transform="translate(197.1,673.8) scale(1,1.020)" text-anchor="middle">12</text>
<text transform="translate(263.3,673.8) scale(1,1.020)" text-anchor="middle">24</text>
<text transform="translate(329.6,673.8) scale(1,1.020)" text-anchor="middle">36</text>
<text transform="translate(395.8,673.8) scale(1,1.020)" text-anchor="middle">48</text>
<text transform="translate(462.1,673.8) scale(1,1.020)" text-anchor="middle">60</text>
<text transform="translate(528.3,673.8) scale(1,1.020)" text-anchor="middle">72</text>
<text transform="translate(594.5,673.8) scale(1,1.020)" text-anchor="middle">84</text>
<text transform="translate(660.8,673.8) scale(1,1.020)" text-anchor="middle">96</text>
<text transform="translate(727.0,673.8) scale(1,1.020)" text-anchor="middle">108</text>
<text transform="translate(793.3,673.8) scale(1,1.020)" text-anchor="middle">120</text>
<text transform="translate(859.5,673.8) scale(1,1.020)" text-anchor="middle">132</text>
<text transform="translate(925.8,673.8) scale(1,1.020)" text-anchor="middle">144</text>
<text transform="translate(95.0,626.1) scale(1,1.020)" text-anchor="end">0</text>
<text transform="translate(95.0,581.6) scale(1,1.020)" text-anchor="end">20</text>
<text transform="translate(95.0,537.1) scale(1,1.020)" text-anchor="end">40</text>
<text transform="translate(95.0,492.5) scale(1,1.020)" text-anchor="end">60</text>
<text transform="translate(95.0,448.0) scale(1,1.020)" text-anchor="end">80</text>
<text transform="translate(95.0,403.5) scale(1,1.020)" text-anchor="end">100</text>
<text transform="translate(95.0,359.0) scale(1,1.020)" text-anchor="end">120</text>
<text transform="translate(95.0,314.5) scale(1,1.020)" text-anchor="end">140</text>
<text transform="translate(95.0,269.9) scale(1,1.020)" text-anchor="end">160</text>
<text transform="translate(95.0,225.4) scale(1,1.020)" text-anchor="end">180</text>
<text transform="translate(95.0,180.9) scale(1,1.020)" text-anchor="end">200</text>
</g>
<text x="366.02" y="718.30" font-size="36.36" xml:space="preserve" style="white-space:pre">Forecast Period (hr)</text>
<g transform="translate(27.2,554.1) rotate(-90)"><text x="-3.00" y="0.00" font-size="36.56" xml:space="preserve" style="white-space:pre">Forecast Intensity (kt)</text></g>
<text x="19.85" y="772.20" font-size="20.37" xml:space="preserve" style="white-space:pre">TCGP v2.5.2</text>
<text x="182.34" y="748.50" font-size="16.38" xml:space="preserve" style="white-space:pre">Use of this product is governed by the UCAR Terms of Use (http://www2.ucar.edu/terms-of-use)</text>
<text x="379.08" y="777.30" font-size="13.64" xml:space="preserve" style="white-space:pre">Plot generated at 1151 UTC   20 November 2025</text>
<defs><linearGradient id="g1" x1="0" x2="1" y1="0" y2="0"><stop offset="0" stop-color="#ffffff"/><stop offset="0.3" stop-color="#b4cff0"/><stop offset="1" stop-color="#1a63bd"/></linearGradient>
<linearGradient id="g2" x1="0" x2="1" y1="0" y2="0"><stop offset="0" stop-color="#ffffff"/><stop offset="0.35" stop-color="#3f80c8"/><stop offset="1" stop-color="#0c4a96"/></linearGradient></defs>
<path d="M841.2 753.4 C858 755 872 764 878.8 777.8 L841.2 777.8 Z" fill="url(#g1)"/>
<path d="M847 750.6 L878.9 760.4 L878.9 776.2 C872 763 860 754.3 847 750.6 Z" fill="url(#g2)"/>
<path d="M843 751.6 C859 753.4 872.4 762.4 879 776" fill="none" stroke="#ffffff" stroke-width="0.9"/>
<path d="M841.2 752.7 C858 754.4 872 763.2 878.7 777" fill="none" stroke="#f7b267" stroke-width="1.1"/>
<text x="877.51" y="777.8" font-size="24.8" style="stroke-width:.9px" textLength="68.85" lengthAdjust="spacingAndGlyphs">NCAR</text>
</svg></body></html>
